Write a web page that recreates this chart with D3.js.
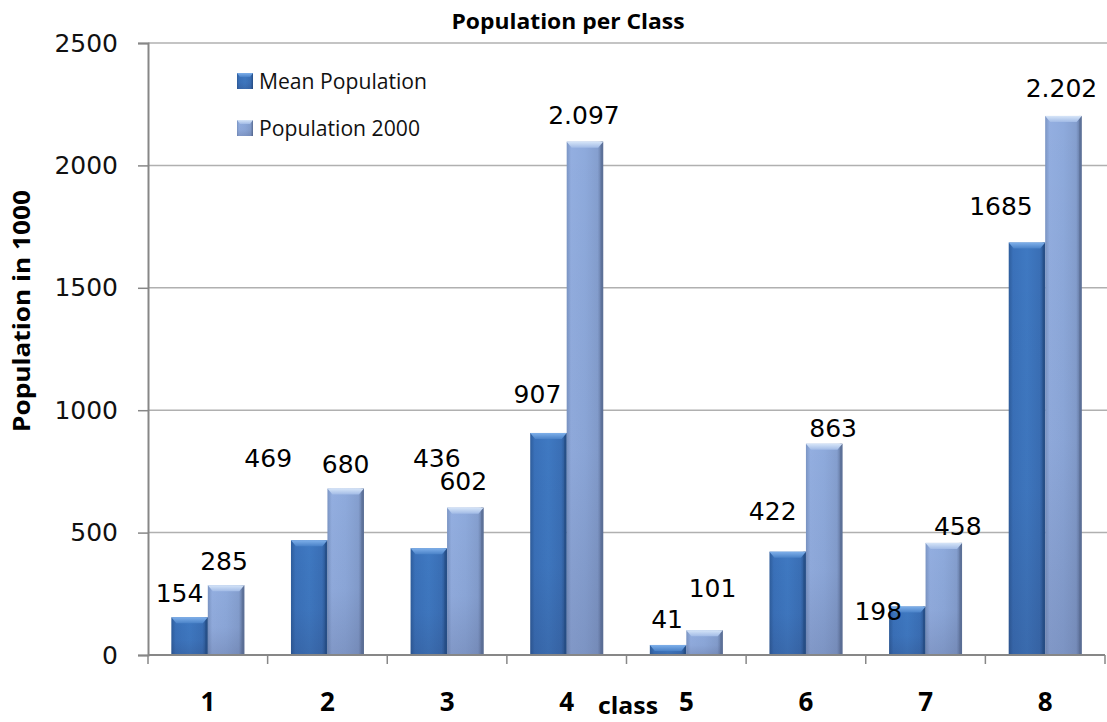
<!DOCTYPE html>
<html>
<head>
<meta charset="utf-8">
<script src="https://cdn.jsdelivr.net/npm/d3@7"></script>
<style>
  html, body { margin: 0; padding: 0; background: #fff; }
  svg { display: block; }
</style>
</head>
<body>
<svg id="chart" width="1107" height="722"></svg>
<script>
// Population per class, in thousands
const classes = ["1", "2", "3", "4", "5", "6", "7", "8"];
const meanPopulation = [154, 469, 436, 907, 41, 422, 198, 1685];
const population2000 = [285, 680, 602, 2097, 101, 863, 458, 2202];
const meanLabels = ["154", "469", "436", "907", "41", "422", "198", "1685"];
const population2000Labels = ["285", "680", "602", "2.097", "101", "863", "458", "2.202"];
const seriesNames = ["Mean Population", "Population 2000"];
const yTicks = [0, 500, 1000, 1500, 2000, 2500];

// Hand-placed label offsets (px) from the default spot above each bar
const meanLabelShift = [[-10, 0], [-41, -58], [8, -66], [-11, -14], [-1, -1], [-15, -16], [-29, 29], [-26, -12]];
const popLabelShift = [[-2, 0], [0, 0], [-2, -2], [-1, -2], [8, -18], [9, 9], [14, 8], [-2, -3]];

const svg = d3.select("#chart");
const plotLeft = 148, plotRight = 1105, plotTop = 43, plotBottom = 655;

const x = d3.scaleBand().domain(classes).range([plotLeft, plotRight]).padding(0);
const xInner = d3.scaleBand().domain(seriesNames).range([0, x.bandwidth()])
  .paddingInner(0).paddingOuter(0.64);
const y = d3.scaleLinear().domain([0, 2500]).range([plotBottom, plotTop]);

// Gradients for the bevelled bars
const defs = svg.append("defs");
function hGrad(id, stops) {
  const g = defs.append("linearGradient").attr("id", id)
    .attr("x1", "0").attr("y1", "0").attr("x2", "1").attr("y2", "0");
  stops.forEach(s => g.append("stop").attr("offset", s[0]).attr("stop-color", s[1]));
}
function vGrad(id, stops) {
  const g = defs.append("linearGradient").attr("id", id)
    .attr("x1", "0").attr("y1", "0").attr("x2", "0").attr("y2", "1");
  stops.forEach(s => g.append("stop").attr("offset", s[0]).attr("stop-color", s[1])
    .attr("stop-opacity", s[2] === undefined ? 1 : s[2]));
}
hGrad("gMean", [[0, "#2e5d9c"], [0.12, "#3a71ba"], [0.5, "#3f79c2"], [0.85, "#3a6fb6"], [1, "#264f88"]]);
hGrad("gPop", [[0, "#7b95c4"], [0.12, "#93aee0"], [0.5, "#8eaadc"], [0.85, "#859fcf"], [1, "#5a6e96"]]);
vGrad("gShade", [[0, "#000", 0], [0.6, "#202040", 0.04], [1, "#202040", 0.16]]);
vGrad("gBevelMean", [[0, "#7fb0ea"], [1, "#4a82c8"]]);
vGrad("gBevelPop", [[0, "#d6e5f8"], [1, "#a2bbe6"]]);

const fills = { "Mean Population": "url(#gMean)", "Population 2000": "url(#gPop)" };
const bevels = { "Mean Population": "url(#gBevelMean)", "Population 2000": "url(#gBevelPop)" };
const edges = { "Mean Population": "#254d85", "Population 2000": "#5b6f96" };

// Gridlines
svg.append("g").selectAll("line").data(yTicks.filter(t => t > 0)).join("line")
  .attr("x1", plotLeft).attr("x2", 1107)
  .attr("y1", d => y(d)).attr("y2", d => y(d))
  .attr("stroke", "#b0b0b0").attr("stroke-width", 1.5);

// Y axis
const yAxis = svg.append("g").attr("transform", `translate(${plotLeft},0)`)
  .call(d3.axisLeft(y).tickValues(yTicks).tickSize(10).tickPadding(20).tickFormat(d3.format("d")));
yAxis.select(".domain").attr("stroke", "#878787").attr("stroke-width", 2);
yAxis.selectAll(".tick line").attr("stroke", "#878787").attr("stroke-width", 1.5);
yAxis.selectAll(".tick text").attr("font-family", "'DejaVu Sans', sans-serif")
  .attr("font-size", 25).attr("fill", "#111");

// Bars
function drawBar(g, x0, w, v, name) {
  const yt = y(v), h = plotBottom - yt;
  g.append("rect").attr("x", x0).attr("y", yt).attr("width", w).attr("height", h)
    .attr("fill", fills[name]);
  g.append("rect").attr("x", x0).attr("y", yt).attr("width", w).attr("height", h)
    .attr("fill", "url(#gShade)");
  g.append("rect").attr("x", x0 + w - 2.5).attr("y", yt).attr("width", 2.5).attr("height", h)
    .attr("fill", edges[name]).attr("opacity", 0.7);
  const b = Math.min(6, h);
  g.append("polygon")
    .attr("points", [[x0, yt], [x0 + w, yt], [x0 + w - 5, yt + b], [x0 + 5, yt + b]].map(p => p.join(",")).join(" "))
    .attr("fill", bevels[name]);
}

const barLayer = svg.append("g");
classes.forEach((c, i) => {
  const g = barLayer.append("g");
  drawBar(g, x(c) + xInner(seriesNames[0]), xInner.bandwidth(), meanPopulation[i], seriesNames[0]);
  drawBar(g, x(c) + xInner(seriesNames[1]), xInner.bandwidth(), population2000[i], seriesNames[1]);
});

// X axis line and ticks between classes
svg.append("line").attr("x1", plotLeft).attr("x2", plotRight).attr("y1", plotBottom).attr("y2", plotBottom)
  .attr("stroke", "#878787").attr("stroke-width", 2);
const bounds = classes.map(c => x(c)).concat([plotRight]);
svg.append("g").selectAll("line").data(bounds).join("line")
  .attr("x1", d => d).attr("x2", d => d).attr("y1", plotBottom).attr("y2", plotBottom + 9)
  .attr("stroke", "#878787").attr("stroke-width", 1.5);

// Category labels
svg.append("g").selectAll("text").data(classes).join("text")
  .attr("x", d => x(d) + x.bandwidth() / 2).attr("y", 711)
  .attr("text-anchor", "middle")
  .attr("font-family", "'Open Sans', sans-serif").attr("font-weight", 700)
  .attr("font-size", 26).attr("fill", "#000").text(d => d);

// Value labels
const labelLayer = svg.append("g")
  .attr("font-family", "'DejaVu Sans', sans-serif").attr("font-size", 25).attr("fill", "#000");
classes.forEach((c, i) => {
  const mx = x(c) + xInner(seriesNames[0]) + xInner.bandwidth() / 2;
  const px = x(c) + xInner(seriesNames[1]) + xInner.bandwidth() / 2;
  labelLayer.append("text")
    .attr("x", mx + meanLabelShift[i][0])
    .attr("y", y(meanPopulation[i]) - 24 + meanLabelShift[i][1])
    .attr("text-anchor", "middle").attr("dominant-baseline", "central")
    .text(meanLabels[i]);
  labelLayer.append("text")
    .attr("x", px + popLabelShift[i][0])
    .attr("y", y(population2000[i]) - 24 + popLabelShift[i][1])
    .attr("text-anchor", "middle").attr("dominant-baseline", "central")
    .text(population2000Labels[i]);
});

// Title
svg.append("text").attr("x", 568).attr("y", 29).attr("text-anchor", "middle")
  .attr("font-family", "'Open Sans', sans-serif").attr("font-weight", 700)
  .attr("font-size", 21).attr("textLength", 233).attr("lengthAdjust", "spacingAndGlyphs")
  .attr("fill", "#000").text("Population per Class");

// Axis titles
svg.append("text").attr("transform", "translate(30,311) rotate(-90)")
  .attr("text-anchor", "middle")
  .attr("font-family", "'Open Sans', sans-serif").attr("font-weight", 700)
  .attr("font-size", 23).attr("textLength", 242).attr("lengthAdjust", "spacingAndGlyphs")
  .attr("fill", "#000").text("Population in 1000");
svg.append("text").attr("x", 628).attr("y", 714).attr("text-anchor", "middle")
  .attr("font-family", "'Open Sans', sans-serif").attr("font-weight", 700)
  .attr("font-size", 24).attr("textLength", 60).attr("lengthAdjust", "spacingAndGlyphs")
  .attr("fill", "#000").text("class");

// Legend
const legend = svg.append("g");
const legendRows = [{ name: seriesNames[0], y: 73, len: 168 }, { name: seriesNames[1], y: 120, len: 161 }];
legendRows.forEach(r => {
  const s = 16;
  legend.append("rect").attr("x", 237).attr("y", r.y).attr("width", s).attr("height", s)
    .attr("fill", fills[r.name]);
  legend.append("rect").attr("x", 237).attr("y", r.y).attr("width", s).attr("height", s)
    .attr("fill", "url(#gShade)");
  legend.append("polygon")
    .attr("points", [[237, r.y], [237 + s, r.y], [237 + s - 3, r.y + 4], [240, r.y + 4]].map(p => p.join(",")).join(" "))
    .attr("fill", bevels[r.name]);
  legend.append("text").attr("x", 259).attr("y", r.y + 16)
    .attr("font-family", "'Open Sans', sans-serif").attr("font-size", 21)
    .attr("textLength", r.len).attr("lengthAdjust", "spacingAndGlyphs")
    .attr("fill", "#111").text(r.name);
});
</script>
</body>
</html>
